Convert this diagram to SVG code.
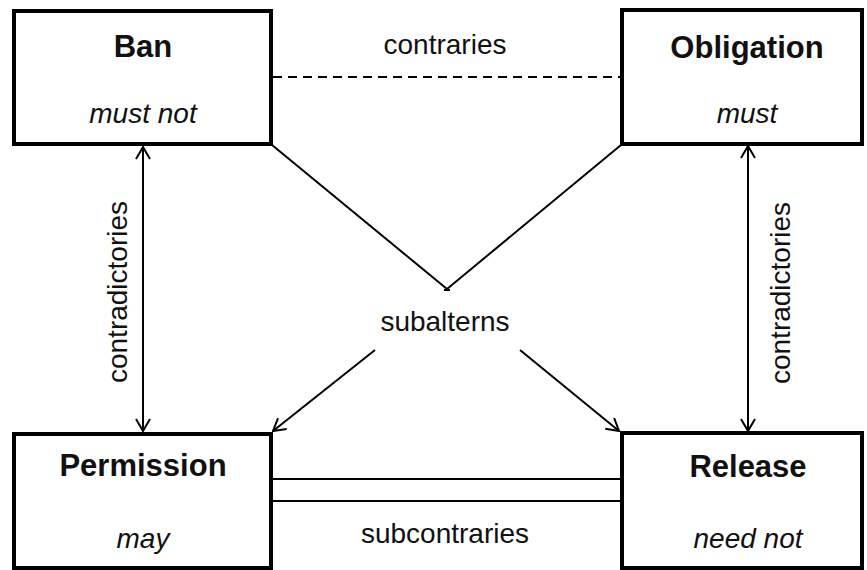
<svg xmlns="http://www.w3.org/2000/svg" width="867" height="570" viewBox="0 0 867 570">
<style>
.box{fill:#fff;stroke:#000;stroke-width:4}
.title{font-family:"Liberation Sans",Arial,sans-serif;font-weight:bold;font-size:31px;text-anchor:middle;fill:#111}
.sub{font-family:"Liberation Sans",Arial,sans-serif;font-style:italic;font-size:28px;text-anchor:middle;fill:#111}
.lbl{font-family:"Liberation Sans",Arial,sans-serif;font-size:28px;text-anchor:middle;fill:#111}
.ln{stroke:#000;stroke-width:2;fill:none}
</style>
<defs>
<marker id="arr" viewBox="0 0 14 16" refX="13" refY="8" markerWidth="14" markerHeight="16" markerUnits="userSpaceOnUse" orient="auto-start-reverse">
<path d="M1,1 L13,8 L1,15" fill="none" stroke="#000" stroke-width="2"/>
</marker>
</defs>
<rect width="867" height="570" fill="#fff"/>
<g id="connectors">
<line class="ln" x1="273" y1="77" x2="621" y2="77" stroke-dasharray="9,6"/>
<line class="ln" x1="143" y1="147" x2="143" y2="431" marker-start="url(#arr)" marker-end="url(#arr)"/>
<line class="ln" x1="748" y1="146" x2="748" y2="431" marker-start="url(#arr)" marker-end="url(#arr)"/>
<polyline class="ln" points="272,145 447,289 621,145"/>
<line class="ln" x1="444" y1="290" x2="450" y2="290"/>
<line class="ln" x1="375" y1="350" x2="273" y2="431" marker-end="url(#arr)"/>
<line class="ln" x1="520" y1="350" x2="619" y2="431" marker-end="url(#arr)"/>
<line class="ln" x1="273" y1="479" x2="621" y2="479"/>
<line class="ln" x1="273" y1="501" x2="621" y2="501"/>
<text class="lbl" x="445" y="54">contraries</text>
<text class="lbl" x="445" y="331">subalterns</text>
<text class="lbl" x="445" y="543">subcontraries</text>
<text class="lbl" transform="translate(127,292) rotate(-90)">contradictories</text>
<text class="lbl" transform="translate(790,293) rotate(-90)">contradictories</text>
</g>
<g id="ban">
<rect class="box" x="14" y="11" width="257" height="133"/>
<text class="title" x="143" y="57">Ban</text>
<text class="sub" x="143" y="123">must not</text>
</g>
<g id="obligation">
<rect class="box" x="622" y="10" width="240" height="134"/>
<text class="title" x="747" y="58">Obligation</text>
<text class="sub" x="747" y="123">must</text>
</g>
<g id="permission">
<rect class="box" x="14" y="434" width="257" height="134"/>
<text class="title" x="143" y="476">Permission</text>
<text class="sub" x="143" y="548">may</text>
</g>
<g id="release">
<rect class="box" x="622" y="433" width="240" height="135"/>
<text class="title" x="748" y="477">Release</text>
<text class="sub" x="748" y="548">need not</text>
</g>
</svg>
